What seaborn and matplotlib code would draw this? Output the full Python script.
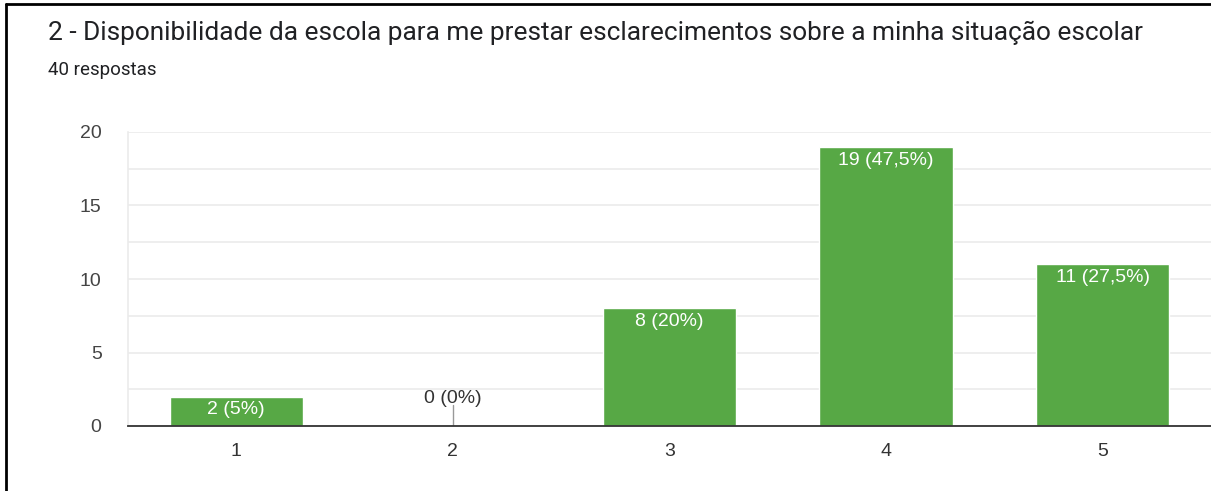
import matplotlib
matplotlib.use("Agg")
import matplotlib.pyplot as plt
from matplotlib.lines import Line2D
import seaborn as sns
import pandas as pd
import numpy as np

categories = ["1", "2", "3", "4", "5"]
counts = [2, 0, 8, 19, 11]
labels = ["2 (5%)", "0 (0%)", "8 (20%)", "19 (47,5%)", "11 (27,5%)"]
yticks = [0, 5, 10, 15, 20]

sns.set_theme(style="white")
plt.rcParams['font.family'] = ['Liberation Sans', 'DejaVu Sans']

W, H = 1211, 491
fig = plt.figure(figsize=(W / 100, H / 100), dpi=100, facecolor="white")
ax = fig.add_axes([128 / W, 1 - 426 / H, 1 - 128 / W, (426 - 132) / H])

df = pd.DataFrame({"cat": categories, "n": counts})
sns.barplot(data=df, x="cat", y="n", color="#57a845", saturation=1, width=0.615,
            ax=ax, zorder=3)

ax.set_xlim(-0.5, 4.5)
ax.set_ylim(0, 20)
ax.set_yticks(yticks)
ax.set_yticks(np.arange(0, 20.1, 2.5), minor=True)
ax.grid(True, axis="y", which="both", color="#ebebeb", linewidth=1.2, zorder=0)
ax.set_xlabel("")
ax.set_ylabel("")
for s in ["top", "right"]:
    ax.spines[s].set_visible(False)
ax.spines["left"].set_color("#ebebeb")
ax.spines["left"].set_linewidth(1.2)
ax.spines["bottom"].set_color("#333333")
ax.spines["bottom"].set_linewidth(1.3)
ax.spines["bottom"].set_zorder(5)
ax.tick_params(axis="y", which="both", length=0, pad=19, labelsize=14, labelcolor="#444444")
ax.tick_params(axis="x", length=0, pad=12, labelsize=14, labelcolor="#333333")

for i, (v, lab) in enumerate(zip(counts, labels)):
    if v > 0:
        ax.text(i, v - 0.33, lab, ha="center", va="top", color="white", fontsize=14, zorder=6)
    else:
        ax.plot([i, i], [0, 1.4], color="#999999", linewidth=1, zorder=4)
        ax.text(i, 1.3, lab, ha="center", va="bottom", color="#333333", fontsize=14, zorder=6)

fig.text(48 / W, 1 - 33 / H, "2 - Disponibilidade da escola para me prestar esclarecimentos sobre a minha situação escolar",
         fontsize=18.9, color="#202124", va="center", ha="left", family=["Roboto", "DejaVu Sans"])
fig.text(48 / W, 1 - 70 / H, "40 respostas", fontsize=13.5, color="#202124", va="center", ha="left",
         family=["Roboto", "DejaVu Sans"])

fig.add_artist(Line2D([6 / W, 6 / W], [0, 1 - 4 / H], color="black", linewidth=2))
fig.add_artist(Line2D([6 / W, 1], [1 - 4 / H, 1 - 4 / H], color="black", linewidth=2))

fig.savefig("out.png", dpi=100, facecolor="white")
